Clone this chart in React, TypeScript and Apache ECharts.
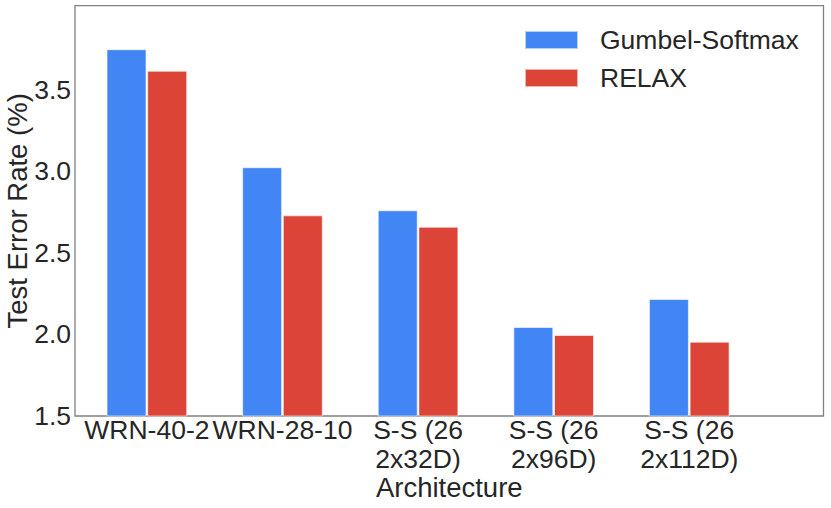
import React, { useEffect, useRef } from "react";
import * as echarts from "echarts";

const categories = ["WRN-40-2", "WRN-28-10", "S-S (26\n2x32D)", "S-S (26\n2x96D)", "S-S (26\n2x112D)"];
const gumbelValues = [3.75, 3.026, 2.762, 2.046, 2.218];
const relaxValues = [3.618, 2.731, 2.661, 1.997, 1.956];
const yTicks = [1.5, 2.0, 2.5, 3.0, 3.5];

const FONT = "Liberation Sans, Arial, Helvetica, sans-serif";
const TEXT = "#262626";

export default function App() {
  const ref = useRef<HTMLDivElement>(null);
  useEffect(() => {
    document.body.style.margin = "0";
    const chart = echarts.init(ref.current!, null, { renderer: "svg" });
    const offset = 0.15;
    chart.setOption({
      animation: false,
      backgroundColor: "#ffffff",
      textStyle: { fontFamily: FONT },
      grid: {
        left: 75,
        right: 7.5,
        top: 5.7,
        bottom: 92,
        containLabel: false,
        outerBoundsMode: "none",
        show: true,
        borderColor: "#808080",
        borderWidth: 1.3,
        backgroundColor: "transparent",
      },
      legend: {
        orient: "vertical",
        left: 519,
        top: 20,
        itemWidth: 53,
        itemHeight: 18,
        itemGap: 8,
        icon: "rect",
        textStyle: { fontSize: 26.5, color: TEXT, fontFamily: FONT, lineHeight: 30, padding: [0, 0, 0, 17] },
        data: ["Gumbel-Softmax", "RELAX"],
      },
      xAxis: {
        type: "value",
        min: -0.53,
        max: 4.99,
        name: "Architecture",
        nameLocation: "middle",
        nameGap: 57,
        nameMoveOverlap: false,
        nameTextStyle: { fontSize: 27.5, color: TEXT, fontFamily: FONT },
        axisLine: { show: false },
        axisTick: { show: false },
        splitLine: { show: false },
        axisLabel: {
          customValues: categories.map((_, i) => i),
          formatter: (v: number) => categories[Math.round(v)] ?? "",
          fontSize: 26.5,
          lineHeight: 29,
          color: TEXT,
          fontFamily: FONT,
          margin: -1,
        },
      },
      yAxis: {
        type: "value",
        min: 1.5,
        max: 4.017,
        interval: 0.5,
        name: "Test Error Rate (%)",
        nameLocation: "middle",
        nameRotate: 90,
        nameGap: 44,
        nameMoveOverlap: false,
        nameTextStyle: { fontSize: 27.5, color: TEXT, fontFamily: FONT },
        axisLine: { show: false },
        axisTick: { show: false },
        splitLine: { show: false },
        axisLabel: {
          formatter: (v: number) => (yTicks.some((t) => Math.abs(t - v) < 1e-6) ? v.toFixed(1) : ""),
          fontSize: 26.5,
          color: TEXT,
          fontFamily: FONT,
          margin: 4,
        },
      },
      series: [
        {
          name: "Gumbel-Softmax",
          type: "bar",
          barWidth: 40,
          barGap: "-100%",
          itemStyle: { color: "#4285F4", borderColor: "rgba(255,255,255,0.6)", borderWidth: 1 },
          data: gumbelValues.map((v, i) => [i - offset, v]),
        },
        {
          name: "RELAX",
          type: "bar",
          barWidth: 40,
          barGap: "-100%",
          itemStyle: { color: "#DB4437", borderColor: "rgba(255,255,255,0.6)", borderWidth: 1 },
          data: relaxValues.map((v, i) => [i + offset, v]),
        },
      ],
    });
    return () => chart.dispose();
  }, []);
  return <div ref={ref} style={{ width: 831, height: 508 }} />;
}
